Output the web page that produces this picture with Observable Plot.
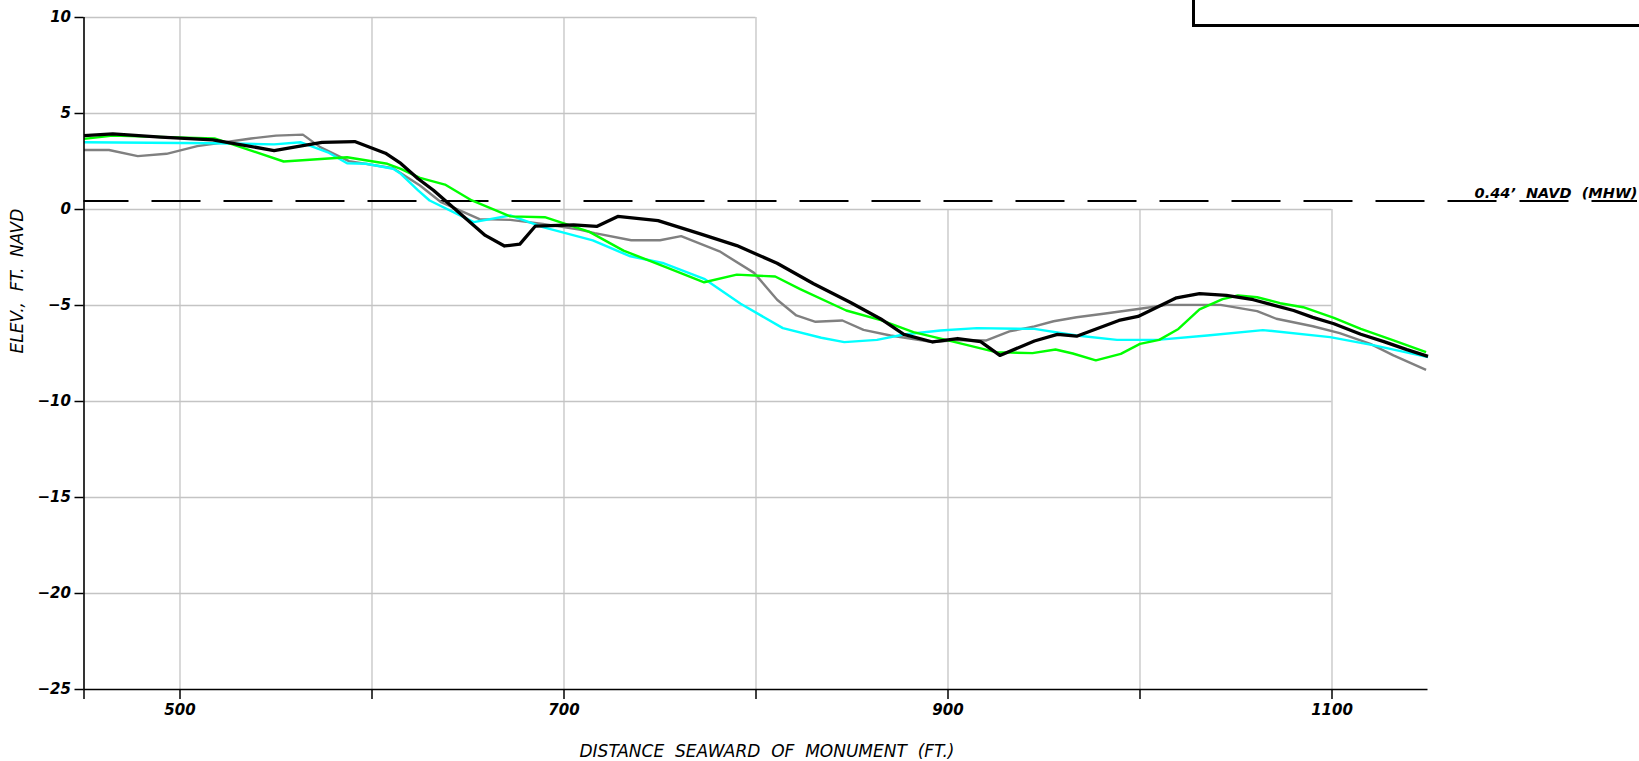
<!DOCTYPE html>
<html><head><meta charset="utf-8">
<script src="https://cdn.jsdelivr.net/npm/d3@7"></script>
<script src="https://cdn.jsdelivr.net/npm/@observablehq/plot@0.6"></script>
<style>
html,body{margin:0;padding:0;background:#fff;overflow:hidden;}
#wrap{position:relative;width:1639px;height:761px;}
#titlebox{position:absolute;left:1192px;top:0;width:460px;height:23.5px;border-left:3px solid #000;border-bottom:3px solid #000;}
#chart{position:absolute;left:0;top:0;}
</style></head><body><div id="wrap"><div id="chart"></div><div id="titlebox"></div></div>
<script>
// Axis settings / tick labels
const xDomain = [450, 1150];
const yDomain = [-25, 10];
const xTicks = [450, 500, 600, 700, 800, 900, 1000, 1100];
const xLabeled = [500, 700, 900, 1100];
const yTicks = [-25, -20, -15, -10, -5, 0, 5, 10];
const upperGridX = [500, 600, 700, 800];
const lowerGridX = [900, 1000, 1100];
const upperGridY = [5, 10];
const lowerGridY = [0, -5, -10, -15, -20];
const xTitle = "DISTANCE\u00a0\u00a0SEAWARD\u00a0\u00a0OF\u00a0\u00a0MONUMENT\u00a0\u00a0(FT.)";
const yTitle = "ELEV.,\u00a0\u00a0FT.\u00a0\u00a0NAVD";
const mhwLevel = 0.44;
const mhwLabel = "0.44\u2019\u00a0\u00a0NAVD\u00a0\u00a0(MHW)";

// Profile surveys (distance seaward, elevation)
const grayX = [450,463,478,493,509,537,550,564,573,588,611,625,636,656,672,689,708,716,735,750,761,781,799,811,821,831,845,856,870,892,905,920,932,945,955,967,981,1000,1014,1042,1061,1071,1090,1104,1120,1132,1149];
const grayY = [3.1,3.1,2.78,2.9,3.3,3.7,3.85,3.9,3.25,2.52,2.15,1.25,0.38,-0.5,-0.54,-0.75,-1.05,-1.23,-1.6,-1.6,-1.39,-2.18,-3.3,-4.7,-5.52,-5.85,-5.78,-6.27,-6.56,-6.9,-6.8,-6.82,-6.35,-6.09,-5.82,-5.61,-5.43,-5.17,-4.97,-4.97,-5.29,-5.69,-6.08,-6.44,-7.0,-7.6,-8.35];

const cyanX = [450,518,549,563,577,587,597,611,615,624,630,653,672,689,715,734,752,773,792,814,834,846,863,877,896,915,945,967,988,1009,1035,1064,1099,1122,1150];
const cyanY = [3.5,3.45,3.39,3.5,2.98,2.41,2.38,2.12,1.86,1.0,0.47,-0.66,-0.31,-0.92,-1.61,-2.42,-2.8,-3.61,-4.91,-6.18,-6.68,-6.91,-6.79,-6.51,-6.3,-6.18,-6.22,-6.56,-6.79,-6.79,-6.56,-6.28,-6.65,-7.08,-7.69];

const greenX = [450,465,518,554,587,608,615,625,638,652,672,690,713,731,753,773,790,810,823,847,865,882,900,925,944,956,965,977,990,1000,1010,1020,1031,1043,1051,1061,1073,1085,1101,1115,1132,1149];
const greenY = [3.68,3.85,3.7,2.5,2.72,2.38,2.12,1.65,1.3,0.47,-0.36,-0.4,-1.15,-2.14,-3.0,-3.79,-3.39,-3.49,-4.15,-5.26,-5.76,-6.39,-6.82,-7.43,-7.48,-7.29,-7.5,-7.86,-7.52,-7.0,-6.79,-6.22,-5.2,-4.67,-4.48,-4.57,-4.88,-5.09,-5.64,-6.22,-6.82,-7.43];

const blackX = [450,465,490,517,549,564,574,591,607,615,624,632,659,669,677,685,705,717,728,749,771,790,811,830,849,865,877,892,905,917,927,945,957,967,989,999,1019,1031,1045,1059,1080,1090,1101,1115,1127,1139,1150];
const blackY = [3.85,3.94,3.77,3.63,3.07,3.33,3.5,3.54,2.93,2.4,1.6,1.0,-1.35,-1.9,-1.8,-0.87,-0.8,-0.88,-0.36,-0.58,-1.27,-1.88,-2.8,-3.87,-4.83,-5.7,-6.5,-6.9,-6.72,-6.88,-7.6,-6.85,-6.5,-6.6,-5.78,-5.57,-4.6,-4.38,-4.47,-4.7,-5.26,-5.62,-5.95,-6.5,-6.88,-7.3,-7.65];

const seriesList = [
  {name: "gray", xs: grayX, ys: grayY, color: "#808080", width: 2.4},
  {name: "cyan", xs: cyanX, ys: cyanY, color: "#00ffff", width: 2.4},
  {name: "green", xs: greenX, ys: greenY, color: "#00ff00", width: 2.4},
  {name: "black", xs: blackX, ys: blackY, color: "#000000", width: 3.3}
];

const lineMarks = seriesList.map(s => {
  const rows = s.xs.map((x, i) => ({x, y: s.ys[i]}));
  return Plot.line(rows, {x: "x", y: "y", stroke: s.color, strokeWidth: s.width, strokeLinejoin: "round", strokeLinecap: "butt"});
});

const gridStyle = {stroke: "#c4c4c4", strokeWidth: 1.3};

const chart = Plot.plot({
  width: 1639,
  height: 761,
  marginLeft: 83.5,
  marginRight: 211.5,
  marginTop: 17,
  marginBottom: 72,
  x: {domain: xDomain},
  y: {domain: yDomain},
  style: {fontFamily: "'DejaVu Sans', sans-serif", fontStyle: "italic", fontSize: "15px", background: "#fff", color: "#000", overflow: "visible"},
  marks: [
    Plot.ruleY(upperGridY, {x1: xDomain[0], x2: upperGridX[upperGridX.length - 1], ...gridStyle}),
    Plot.ruleY(lowerGridY, {x1: xDomain[0], x2: lowerGridX[lowerGridX.length - 1], ...gridStyle}),
    Plot.ruleX(upperGridX, {y1: yDomain[0], y2: yDomain[1], ...gridStyle}),
    Plot.ruleX(lowerGridX, {y1: yDomain[0], y2: 0, ...gridStyle}),
    Plot.ruleY([mhwLevel], {stroke: "#000", strokeWidth: 2, strokeDasharray: "49,23", strokeDashoffset: 4, insetRight: -209.5}),
    Plot.text([{label: mhwLabel, y: mhwLevel}], {y: "y", text: "label", frameAnchor: "right", dx: 209.5, dy: -3, textAnchor: "end", lineAnchor: "bottom", fontWeight: "bold", fontSize: 14.5}),
    ...lineMarks,
    Plot.ruleX([xDomain[0]], {y1: yDomain[0], y2: yDomain[1], stroke: "#000", strokeWidth: 1.6}),
    Plot.ruleY([yDomain[0]], {x1: xDomain[0], x2: xDomain[1], stroke: "#000", strokeWidth: 1.6}),
    Plot.axisY(yTicks, {tickSize: 9, tickPadding: 4, fontWeight: "bold", fontSize: 15, label: null, strokeWidth: 1.5}),
    Plot.axisX(xTicks, {tickSize: 10, tickPadding: 5, fontSize: 15, fontWeight: "bold", label: null, strokeWidth: 1.5, tickFormat: d => xLabeled.includes(d) ? String(d) : ""}),
    Plot.text([xTitle], {frameAnchor: "bottom", dx: 11, dy: 62, fontSize: 17, lineAnchor: "middle"}),
    Plot.text([yTitle], {frameAnchor: "left", dx: -66, rotate: -90, fontSize: 17, lineAnchor: "middle"})
  ]
});
document.getElementById("chart").appendChild(chart);
</script>
</body></html>
